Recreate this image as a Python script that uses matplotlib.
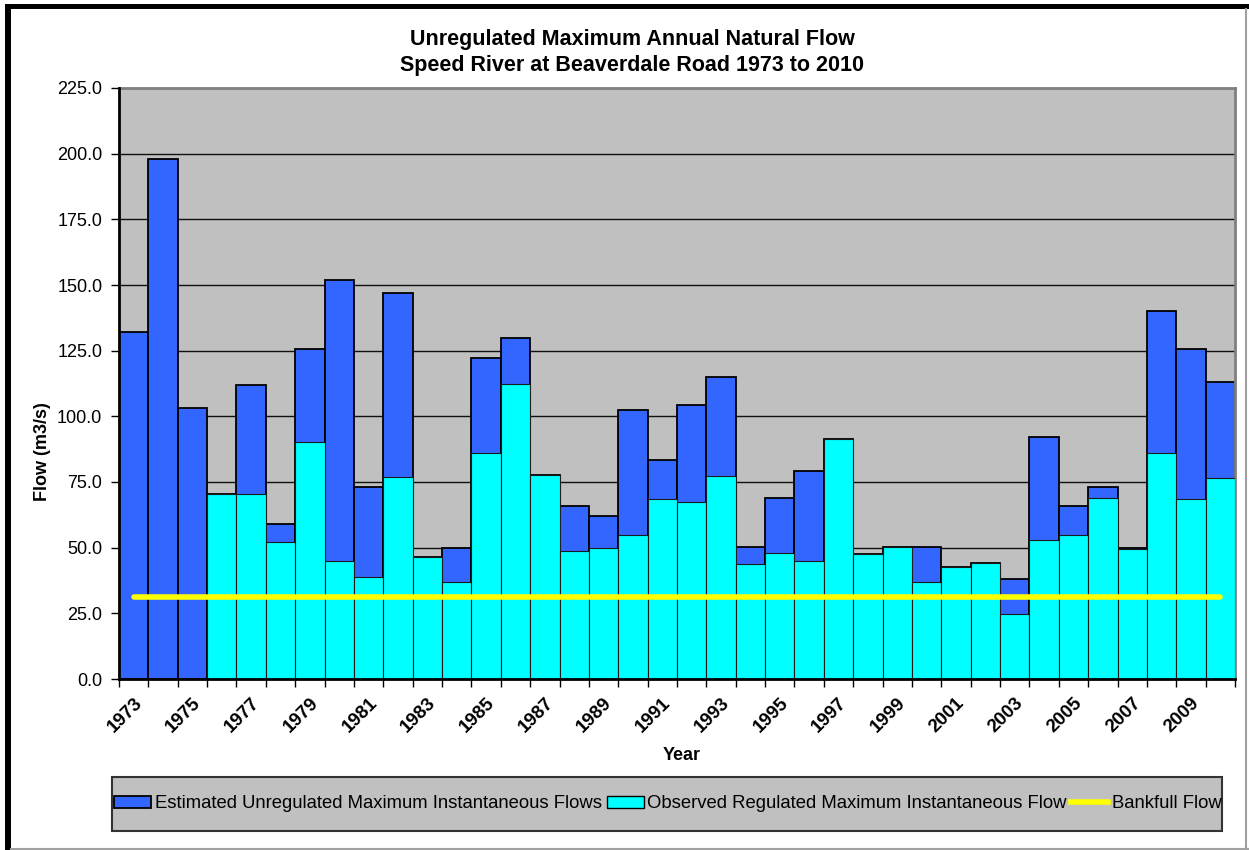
import numpy as np
import matplotlib
matplotlib.use("Agg")
import matplotlib.pyplot as plt
from matplotlib.patches import Rectangle, Patch
from matplotlib.lines import Line2D

plt.rcParams['font.family'] = ['Liberation Sans', 'DejaVu Sans']

years = list(range(1973, 2011))
unregulated = [132, 198, 103, 70.5, 112, 59, 125.7, 152, 73, 147,
               46.6, 50, 122.2, 130, 77.8, 65.9, 62, 102.5, 83.5, 104.5,
               115, 50.2, 69, 79.2, 91.2, 47.7, 50.2, 50.2, 42.8, 44.1,
               38, 92, 65.9, 73.1, 49.7, 140, 125.8, 113.1]
observed = [None, None, None, 70.5, 70.5, 52, 90.2, 44.8, 38.8, 77,
            46.6, 36.9, 86.1, 112.4, 77.8, 48.7, 50, 54.7, 68.5, 67.2,
            77.4, 43.8, 48, 45, 91.2, 47.7, 50.2, 37.1, 42.8, 44.1,
            24.7, 53, 54.8, 69, 49.4, 85.9, 68.4, 76.5]
bankfull = 31.2
yticks = [0, 25, 50, 75, 100, 125, 150, 175, 200, 225]

title1 = "Unregulated Maximum Annual Natural Flow"
title2 = "Speed River at Beaverdale Road 1973 to 2010"
lab_unreg = "Estimated Unregulated Maximum Instantaneous Flows"
lab_obs = "Observed Regulated Maximum Instantaneous Flow"
lab_bank = "Bankfull Flow"

W, H = 1249, 850
fig = plt.figure(figsize=(W / 100, H / 100), dpi=100)
fig.patch.set_facecolor('white')

def fx(px):
    return px / W

def fy(py):
    return 1 - py / H

# outer frame
fig.add_artist(Rectangle((fx(5), fy(850)), fx(6), 846 / H, transform=fig.transFigure,
                         facecolor='black', edgecolor='none'))
fig.add_artist(Rectangle((fx(5), fy(9)), fx(1244), 5 / H, transform=fig.transFigure,
                         facecolor='black', edgecolor='none'))
fig.add_artist(Line2D([fx(1246), fx(1246)], [fy(9), fy(850)], transform=fig.transFigure,
                      color='#a0a0a0', lw=1.5))
fig.add_artist(Line2D([fx(11), fx(1249)], [fy(848.5), fy(848.5)], transform=fig.transFigure,
                      color='#a0a0a0', lw=1.5))

ax = fig.add_axes([fx(119), fy(679), fx(1235 - 119), (679 - 88) / H])
ax.set_facecolor('#C0C0C0')

x = np.arange(len(years))
ax.bar(x, unregulated, width=1.0, color='#3366FF', edgecolor='black', linewidth=1.3, zorder=2)
obs_x = [xi for xi, v in zip(x, observed) if v is not None]
obs_v = [v for v in observed if v is not None]
ax.bar(obs_x, obs_v, width=1.0, color='#00FFFF', edgecolor='#1a1a1a', linewidth=0.8, zorder=3)
ax.plot([x[0], x[-1]], [bankfull, bankfull], color='#FFFF00', lw=4, zorder=4,
        solid_capstyle='round')

ax.set_xlim(-0.5, len(years) - 0.5)
ax.set_ylim(0, 225)
ax.set_yticks(yticks)
ax.set_yticklabels([f"{v:.1f}" for v in yticks], fontsize=13)
ax.yaxis.grid(True, color='#111111', lw=1.0, zorder=1)
ax.set_axisbelow(True)

ax.set_xticks(np.arange(len(years) + 1) - 0.5)
ax.set_xticklabels([])
ax.set_xticks(x[::2], minor=True)
ax.set_xticklabels([str(y) for y in years[::2]], minor=True, rotation=45,
                   ha='right', va='top', rotation_mode='anchor',
                   fontsize=13.5, fontweight='bold')
ax.tick_params(axis='x', which='major', length=6, width=1, direction='out')
ax.tick_params(axis='x', which='minor', length=0, pad=11)
ax.tick_params(axis='y', length=6, width=1, direction='out', pad=6)

for s in ['top', 'right']:
    ax.spines[s].set_color('#808080')
    ax.spines[s].set_linewidth(2)
for s in ['left', 'bottom']:
    ax.spines[s].set_color('black')
    ax.spines[s].set_linewidth(2)
    ax.spines[s].set_zorder(5)

ax.set_ylabel("Flow (m3/s)", fontsize=13, fontweight='bold')
ax.yaxis.set_label_coords((51 - 119) / 1116, (679 - 452) / 591)

fig.text(fx(682), fy(755), "Year", fontsize=13, fontweight='bold', ha='center', va='center')
fig.text(fx(632), fy(40), title1, fontsize=15.5, fontweight='bold', ha='center', va='center')
fig.text(fx(632), fy(66), title2, fontsize=15.5, fontweight='bold', ha='center', va='center')

# legend box
fig.add_artist(Rectangle((fx(112), fy(831)), fx(1222 - 112), (831 - 777) / H,
                         transform=fig.transFigure, facecolor='#C0C0C0',
                         edgecolor='#333333', lw=1.5))
handles = [Patch(facecolor='#3366FF', edgecolor='black', lw=1.3),
           Patch(facecolor='#00FFFF', edgecolor='black', lw=1.0),
           Line2D([0], [0], color='#FFFF00', lw=4)]
fig.legend(handles, [lab_unreg, lab_obs, lab_bank], loc='center',
           bbox_to_anchor=(fx(668), fy(804)), ncol=3, frameon=False,
           fontsize=13.3, handlelength=2.0, handleheight=0.6,
           handletextpad=0.2, columnspacing=0.25, borderaxespad=0)

fig.savefig("out.png", dpi=100)
